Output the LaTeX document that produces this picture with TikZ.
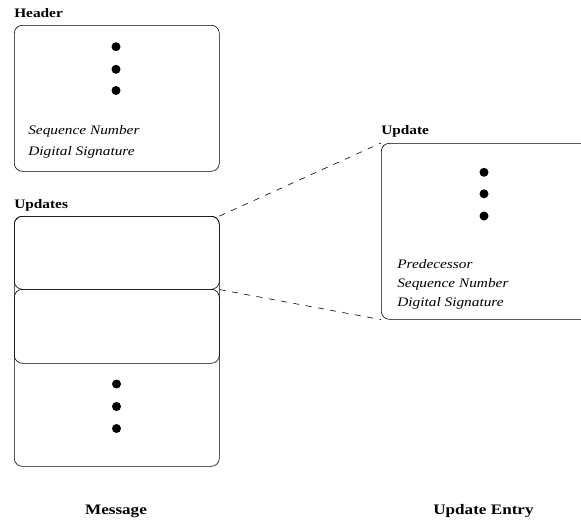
\documentclass[tikz,border=0pt]{standalone}
\usepackage{fontspec}
\setmainfont{Liberation Serif}[FakeStretch=1.18]
\usetikzlibrary{positioning}
\tikzset{
    field/.style = {draw, rounded corners=8pt, inner sep=0pt, anchor=north west},
    dot/.style = {circle, fill, inner sep=0pt, minimum size=9pt},
    title/.style = {font=\fontsize{13}{15}\selectfont\bfseries, anchor=base west, inner sep=0pt},
    caption/.style = {font=\fontsize{14.5}{17}\selectfont\bfseries, anchor=base, inner sep=0pt},
    entry/.style = {font=\fontsize{13}{15}\selectfont\itshape, anchor=base west, inner sep=0pt},
    zoomline/.style = {dash pattern=on 6pt off 6.5pt}
}

\begin{document}
\begin{tikzpicture}[x=1pt, y=-1pt, line width=0.6pt]
    \useasboundingbox (0,0) rectangle (581,520);

    % header of the message
    \node[title] (headerlbl) at (14,17) {Header};
    \node[field, minimum width=205pt, minimum height=146pt] (header) at (14,25) {};
    \foreach \y [count=\i] in {46.7, 69.3, 90.5}
        \node[dot] (hdot\i) at (116,\y) {};
    \node[entry] (hseq) at (28,134) {Sequence Number};
    \node[entry] (hsig) at (28,155.5) {Digital Signature};

    % list of updates
    \node[title] (updslbl) at (14,208) {Updates};
    \node[field, minimum width=205pt, minimum height=250pt] (updates) at (14,216) {};
    \node[field, minimum width=205pt, minimum height=73pt] (upd1) at (14,216) {};
    \node[field, minimum width=205pt, minimum height=74pt] (upd2) at (14,289) {};
    \foreach \y [count=\i] in {384, 406.5, 428.5}
        \node[dot] (udot\i) at (116.5,\y) {};

    % one update entry
    \node[title] (entrylbl) at (381,134) {Update};
    \node[field, minimum width=215pt, minimum height=176pt] (entry) at (381,143) {};
    \foreach \y [count=\i] in {172.3, 193.8, 216}
        \node[dot] (edot\i) at (484,\y) {};
    \node[entry] (epre) at (397,268) {Predecessor};
    \node[entry] (eseq) at (397,287) {Sequence Number};
    \node[entry] (esig) at (397,306) {Digital Signature};

    \draw[zoomline] (upd1.north east) -- (entry.north west);
    \draw[zoomline] (upd1.south east) -- (entry.south west);

    \node[caption] (msgcap) at (116,514) {Message};
    \node[caption] (entrycap) at (483.5,514) {Update Entry};
\end{tikzpicture}
\end{document}
